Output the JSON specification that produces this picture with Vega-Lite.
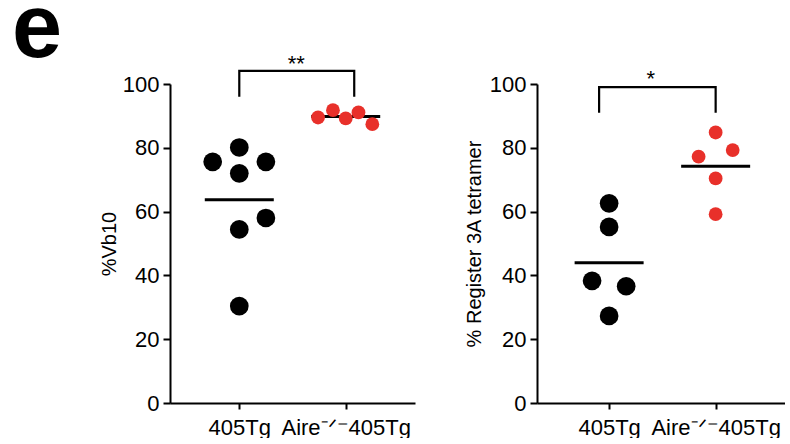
{
  "$schema": "https://vega.github.io/schema/vega-lite/v6.json",
  "autosize": "pad",
  "padding": {"left": 12, "top": -15, "right": 0, "bottom": 0},
  "background": "white",
  "title": {"text": "e", "fontSize": 90, "fontWeight": "bold", "font": "Liberation Sans", "color": "black", "anchor": "start", "frame": "group", "dx": -158, "dy": 23, "offset": 0},
  "datasets": {
    "vb10": [
      {"group": "405Tg", "center": 0, "pos": 0, "value": 80.1},
      {"group": "405Tg", "center": 0, "pos": -0.25, "value": 75.6},
      {"group": "405Tg", "center": 0, "pos": 0.25, "value": 75.6},
      {"group": "405Tg", "center": 0, "pos": 0, "value": 72.0},
      {"group": "405Tg", "center": 0, "pos": 0.25, "value": 58.0},
      {"group": "405Tg", "center": 0, "pos": 0, "value": 54.4},
      {"group": "405Tg", "center": 0, "pos": 0, "value": 30.4},
      {"group": "Aire-/-405Tg", "center": 1, "pos": 0.74, "value": 89.5},
      {"group": "Aire-/-405Tg", "center": 1, "pos": 0.88, "value": 91.8},
      {"group": "Aire-/-405Tg", "center": 1, "pos": 1.0, "value": 89.2},
      {"group": "Aire-/-405Tg", "center": 1, "pos": 1.12, "value": 91.1},
      {"group": "Aire-/-405Tg", "center": 1, "pos": 1.25, "value": 87.4}
    ],
    "reg3a": [
      {"group": "405Tg", "center": 0, "pos": 0, "value": 62.6},
      {"group": "405Tg", "center": 0, "pos": 0, "value": 55.2},
      {"group": "405Tg", "center": 0, "pos": -0.16, "value": 38.3},
      {"group": "405Tg", "center": 0, "pos": 0.16, "value": 36.6},
      {"group": "405Tg", "center": 0, "pos": 0, "value": 27.3},
      {"group": "Aire-/-405Tg", "center": 1, "pos": 1.0, "value": 84.8},
      {"group": "Aire-/-405Tg", "center": 1, "pos": 1.16, "value": 79.3},
      {"group": "Aire-/-405Tg", "center": 1, "pos": 0.84, "value": 77.2},
      {"group": "Aire-/-405Tg", "center": 1, "pos": 1.0, "value": 70.4},
      {"group": "Aire-/-405Tg", "center": 1, "pos": 1.0, "value": 59.2}
    ],
    "bracketLeft": [
      {"o": 1, "pos": 0, "value": 96.0},
      {"o": 2, "pos": 0, "value": 104.1},
      {"o": 3, "pos": 1.08, "value": 104.1},
      {"o": 4, "pos": 1.08, "value": 96.0}
    ],
    "bracketRight": [
      {"o": 1, "pos": -0.094, "value": 91.0},
      {"o": 2, "pos": -0.094, "value": 99.0},
      {"o": 3, "pos": 1.0, "value": 99.0},
      {"o": 4, "pos": 1.0, "value": 91.0}
    ],
    "starLeft": [{"pos": 0.536, "value": 104.0, "label": "**"}],
    "starRight": [{"pos": 0.392, "value": 99.5, "label": "*"}]
  },
  "bounds": "flush",
  "spacing": 122,
  "hconcat": [
    {
      "width": 245,
      "height": 319,
      "layer": [
        {
          "data": {"name": "vb10"},
          "mark": {"type": "tick", "orient": "horizontal", "thickness": 3, "size": 69, "color": "black"},
          "encoding": {
            "x": {"field": "center", "type": "quantitative", "scale": {"domain": [-0.651, 1.651], "nice": false, "zero": false}, "axis": {"title": null, "values": [0, 1], "labelExpr": "datum.value == 0 ? '405Tg' : 'Aire⁻ᐟ⁻405Tg'"}},
            "y": {"aggregate": "mean", "field": "value", "type": "quantitative", "scale": {"domain": [0, 100], "nice": false}, "axis": {"title": "%Vb10", "values": [0, 20, 40, 60, 80, 100]}}
          }
        },
        {
          "data": {"name": "vb10"},
          "mark": {"type": "point", "filled": true, "opacity": 1},
          "encoding": {
            "x": {"field": "pos", "type": "quantitative"},
            "y": {"field": "value", "type": "quantitative"},
            "color": {"field": "group", "type": "nominal", "scale": {"domain": ["405Tg", "Aire-/-405Tg"], "range": ["#000000", "#e8302a"]}, "legend": null},
            "size": {"field": "group", "type": "nominal", "scale": {"domain": ["405Tg", "Aire-/-405Tg"], "range": [350, 190]}, "legend": null}
          }
        },
        {
          "data": {"name": "bracketLeft"},
          "mark": {"type": "line", "color": "black", "strokeWidth": 2.2},
          "encoding": {
            "x": {"field": "pos", "type": "quantitative"},
            "y": {"field": "value", "type": "quantitative"},
            "order": {"field": "o", "type": "quantitative"}
          }
        },
        {
          "data": {"name": "starLeft"},
          "mark": {"type": "text", "fontSize": 22, "font": "Liberation Sans", "baseline": "alphabetic", "color": "black"},
          "encoding": {
            "x": {"field": "pos", "type": "quantitative"},
            "y": {"field": "value", "type": "quantitative"},
            "text": {"field": "label"}
          }
        }
      ]
    },
    {
      "width": 248,
      "height": 319,
      "layer": [
        {
          "data": {"name": "reg3a"},
          "mark": {"type": "tick", "orient": "horizontal", "thickness": 3, "size": 69, "color": "black"},
          "encoding": {
            "x": {"field": "center", "type": "quantitative", "scale": {"domain": [-0.677, 1.651], "nice": false, "zero": false}, "axis": {"title": null, "values": [0, 1], "labelExpr": "datum.value == 0 ? '405Tg' : 'Aire⁻ᐟ⁻405Tg'"}},
            "y": {"aggregate": "mean", "field": "value", "type": "quantitative", "scale": {"domain": [0, 100], "nice": false}, "axis": {"title": "% Register 3A tetramer", "titlePadding": 5, "values": [0, 20, 40, 60, 80, 100]}}
          }
        },
        {
          "data": {"name": "reg3a"},
          "mark": {"type": "point", "filled": true, "opacity": 1},
          "encoding": {
            "x": {"field": "pos", "type": "quantitative"},
            "y": {"field": "value", "type": "quantitative"},
            "color": {"field": "group", "type": "nominal", "scale": {"domain": ["405Tg", "Aire-/-405Tg"], "range": ["#000000", "#e8302a"]}, "legend": null},
            "size": {"field": "group", "type": "nominal", "scale": {"domain": ["405Tg", "Aire-/-405Tg"], "range": [350, 225]}, "legend": null}
          }
        },
        {
          "data": {"name": "bracketRight"},
          "mark": {"type": "line", "color": "black", "strokeWidth": 2.2},
          "encoding": {
            "x": {"field": "pos", "type": "quantitative"},
            "y": {"field": "value", "type": "quantitative"},
            "order": {"field": "o", "type": "quantitative"}
          }
        },
        {
          "data": {"name": "starRight"},
          "mark": {"type": "text", "fontSize": 22, "font": "Liberation Sans", "baseline": "alphabetic", "color": "black"},
          "encoding": {
            "x": {"field": "pos", "type": "quantitative"},
            "y": {"field": "value", "type": "quantitative"},
            "text": {"field": "label"}
          }
        }
      ]
    }
  ],
  "config": {
    "view": {"stroke": null},
    "font": "Liberation Sans",
    "axis": {"grid": false, "domainColor": "black", "domainWidth": 2, "tickColor": "black", "tickWidth": 2, "labelColor": "black", "labelFont": "Liberation Sans", "titleFont": "Liberation Sans", "titleColor": "black", "titleFontWeight": "normal"},
    "axisX": {"tickSize": 6, "labelFontSize": 22, "labelPadding": 8, "labelAngle": 0},
    "axisY": {"tickSize": 7, "labelFontSize": 22, "labelPadding": 4, "titleFontSize": 20, "titlePadding": 3}
  }
}
